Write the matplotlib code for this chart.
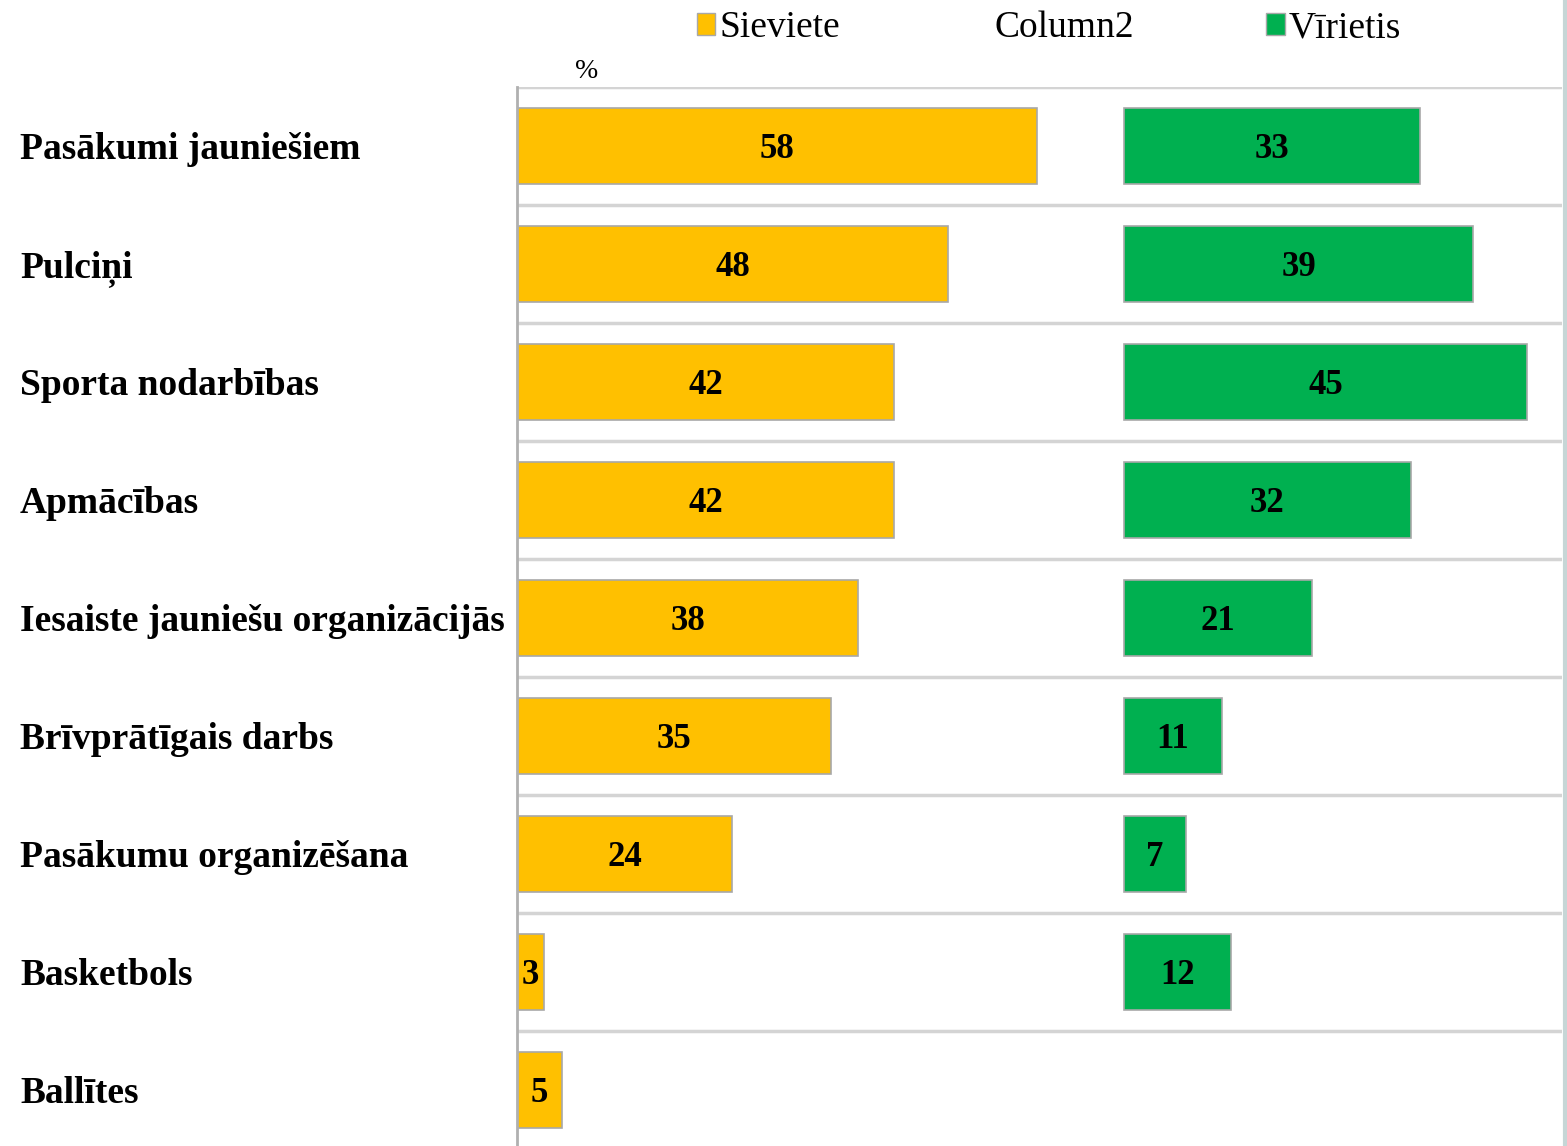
import numpy as np
import matplotlib
matplotlib.use('Agg')
import matplotlib.pyplot as plt
import matplotlib.transforms as mtransforms
from matplotlib.patches import Patch

plt.rcParams['font.family'] = ['Liberation Serif', 'DejaVu Serif']

categories = ['Pasākumi jauniešiem', 'Pulciņi', 'Sporta nodarbības', 'Apmācības',
              'Iesaiste jauniešu organizācijās', 'Brīvprātīgais darbs',
              'Pasākumu organizēšana', 'Basketbols', 'Ballītes']
sieviete = [58, 48, 42, 42, 38, 35, 24, 3, 5]
column2 = [9.6, 19.6, 25.6, 25.6, 29.6, 32.6, 43.6, 64.6, 62.6]
virietis = [33, 39, 45, 32, 21, 11, 7, 12, 0]

YELLOW = '#FFC000'
GREEN = '#00B050'

fig = plt.figure(figsize=(15.67, 11.46), dpi=100)
ax = fig.add_axes([0.330, -0.0026, 0.667, 0.9267])

y = np.arange(len(categories))
h = 0.65
ax.barh(y, sieviete, height=h, color=YELLOW, edgecolor='#a8a8a8', linewidth=1.2)
ax.barh(y, column2, height=h, left=sieviete, color='none', edgecolor='none')
left_v = np.array(sieviete) + np.array(column2)
vals_v = np.array(virietis)
mask = vals_v > 0
ax.barh(y[mask], vals_v[mask], height=h, left=left_v[mask], color=GREEN,
        edgecolor='#a8a8a8', linewidth=1.2)

for i in range(len(categories)):
    ax.text(sieviete[i] / 2, y[i], str(sieviete[i]), ha='center', va='center_baseline',
            fontsize=25, fontweight='bold')
    if virietis[i] > 0:
        ax.text(left_v[i] + virietis[i] / 2, y[i], str(virietis[i]), ha='center',
                va='center_baseline', fontsize=25, fontweight='bold')

# row separators
for b in np.arange(-0.5, len(categories), 1.0):
    ax.axhline(b, color='#d4d4d4', linewidth=2.5, zorder=0)

ax.set_xlim(0, 116.5)
ax.set_ylim(len(categories) - 0.5, -0.5)
ax.set_yticks([])
ax.set_xticks([])
for s in ['top', 'right', 'bottom']:
    ax.spines[s].set_visible(False)
ax.spines['left'].set_color('#b0b0b0')
ax.spines['left'].set_linewidth(2)

# category labels, left-aligned near the figure edge
trans = mtransforms.blended_transform_factory(fig.transFigure, ax.transData)
for i, cat in enumerate(categories):
    ax.text(20 / 1567, y[i], cat, transform=trans, ha='left', va='center_baseline',
            fontsize=27, fontweight='bold')

fig.text(587 / 1567, 1 - 72 / 1146, '%', ha='center', va='center', fontsize=20)

handles = [Patch(facecolor=YELLOW, edgecolor='#a8a8a8'),
           Patch(facecolor='none', edgecolor='none'),
           Patch(facecolor=GREEN, edgecolor='#a8a8a8')]
fig.legend(handles, ['Sieviete', 'Column2', 'Vīrietis'], ncol=3,
           loc='center', bbox_to_anchor=(1049 / 1567, 1 - 28 / 1146),
           frameon=False, fontsize=27, handlelength=0.5, handleheight=0.5,
           handletextpad=0.12, columnspacing=3.5)

# slide border on the right edge
fig.add_artist(plt.Line2D([0.9985, 0.9985], [0, 1], color='#c6d6d6', linewidth=3,
                          transform=fig.transFigure))

fig.savefig('out.png', dpi=100)
